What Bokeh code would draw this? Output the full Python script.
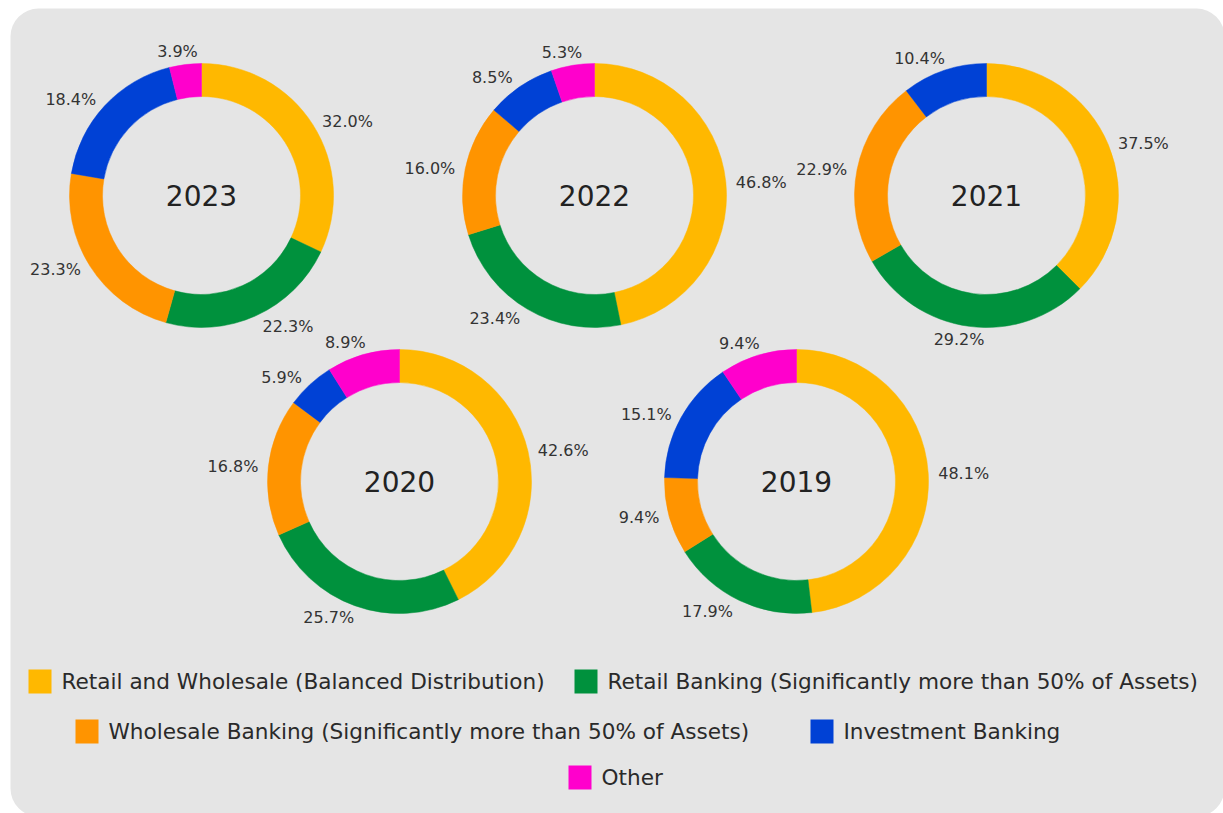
import math
from bokeh.plotting import figure
from bokeh.models import Range1d, ColumnDataSource, BoxAnnotation
from bokeh.embed import file_html
from bokeh.resources import INLINE
from bokeh.core.properties import value

# ---------------- data ----------------
years = ["2023", "2022", "2021", "2020", "2019"]
categories = [
    "Retail and Wholesale (Balanced Distribution)",
    "Retail Banking (Significantly more than 50% of Assets)",
    "Wholesale Banking (Significantly more than 50% of Assets)",
    "Investment Banking",
    "Other",
]
colors = ["#FFB800", "#00913D", "#FF9400", "#0041D5", "#FF00CC"]

share_2023 = [32.0, 22.3, 23.3, 18.4, 3.9]
share_2022 = [46.8, 23.4, 16.0, 8.5, 5.3]
share_2021 = [37.5, 29.2, 22.9, 10.4, 0.0]
share_2020 = [42.6, 25.7, 16.8, 5.9, 8.9]
share_2019 = [48.1, 17.9, 9.4, 15.1, 9.4]
shares = [share_2023, share_2022, share_2021, share_2020, share_2019]

# ---------------- layout (page pixels) ----------------
W, H = 1223, 813
centers_page = [(201, 195), (594, 195), (986, 195), (399, 481), (796, 481)]
R_OUT, R_IN = 132, 99
LABEL_PX, TITLE_PX, LEGEND_PX = 16, 28, 21.6
FONT = "DejaVu Sans"


def X(px):
    return px


def Y(py):
    return H - py


CHAR_W = {".": 0.318, "%": 0.95}


def text_width(t, size):
    return sum(CHAR_W.get(ch, 0.636) for ch in t) * size


p = figure(
    width=W, height=H,
    x_range=Range1d(0, W), y_range=Range1d(0, H),
    output_backend="svg", toolbar_location=None,
    x_axis_location=None, y_axis_location=None,
    min_border=0,
    background_fill_color="white", border_fill_color="white",
    outline_line_color=None,
)
p.grid.visible = False

bg = BoxAnnotation(left=X(10), right=X(1224), top=Y(8), bottom=Y(816),
                   fill_color="#E5E5E5", fill_alpha=1.0, line_color=None,
                   border_radius=28, level="underlay")
p.add_layout(bg)

wx, wy, ws, we, wc = [], [], [], [], []
lx, ly, lt = [], [], []
tx, ty, tt = [], [], []

for yr, vals, (cxp, cyp) in zip(years, shares, centers_page):
    total = sum(vals)
    cum = 0.0
    tx.append(X(cxp)); ty.append(Y(cyp)); tt.append(yr)
    for v, col in zip(vals, colors):
        if v <= 0:
            continue
        f0 = cum / total
        f1 = (cum + v) / total
        cum += v
        wx.append(X(cxp)); wy.append(Y(cyp))
        ws.append(math.pi / 2 - 2 * math.pi * f0)
        we.append(math.pi / 2 - 2 * math.pi * f1)
        wc.append(col)
        # label placement (outside)
        th = 2 * math.pi * (f0 + f1) / 2
        s, c = math.sin(th), math.cos(th)
        label = f"{v:.1f}%"
        w = text_width(label, LABEL_PX)
        h = LABEL_PX
        sx = 1 if s >= 0 else -1
        xoff = sx * (w / 2 + h / 4) * min(1.0, 2.4 * abs(s)) + 6 * s
        yoff = -(1 if c >= 0 else -1) * (h / 2 + 5) * c * c
        px = cxp + R_OUT * s + xoff
        py = cyp - R_OUT * c + yoff
        lx.append(X(px)); ly.append(Y(py)); lt.append(label)

p.annular_wedge(
    x="x", y="y", inner_radius=R_IN, outer_radius=R_OUT,
    start_angle="s", end_angle="e", direction="clock",
    fill_color="c", line_color="c", line_width=0.5,
    source=ColumnDataSource(dict(x=wx, y=wy, s=ws, e=we, c=wc)),
)

p.text(x=lx, y=ly, text=lt, text_font=value(FONT), text_font_size=f"{LABEL_PX}px",
       text_color="#333333", text_align="center", text_baseline="middle")
p.text(x=tx, y=ty, text=tt, text_font=value(FONT), text_font_size=f"{TITLE_PX}px",
       text_color="#222222", text_align="center", text_baseline="middle")

# ---------------- legend ----------------
legend_rows_y = [681, 731, 777]
legend_items = [  # (category index, row, text left x in page px)
    (0, 0, 61), (1, 0, 607),
    (2, 1, 108), (3, 1, 843),
    (4, 2, 601),
]
sqx, sqy, sqc, ltx, lty, ltt = [], [], [], [], [], []
for idx, row, txp in legend_items:
    yp = legend_rows_y[row]
    sqx.append(X(txp - 21.5)); sqy.append(Y(yp)); sqc.append(colors[idx])
    ltx.append(X(txp)); lty.append(Y(yp)); ltt.append(categories[idx])

p.rect(x=sqx, y=sqy, width=23, height=24, fill_color=sqc, line_color=None)
p.text(x=ltx, y=lty, text=ltt, text_font=value(FONT), text_font_size=f"{LEGEND_PX}px",
       text_color="#2A2A2A", text_align="left", text_baseline="middle")

open("out.html", "w").write(file_html(p, INLINE))
